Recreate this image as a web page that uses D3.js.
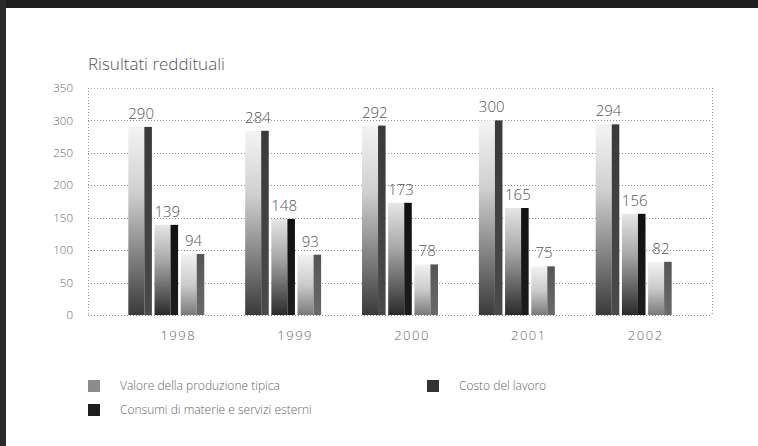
<!DOCTYPE html>
<html>
<head>
<meta charset="utf-8">
<script src="https://cdn.jsdelivr.net/npm/d3@7"></script>
<style>
  body { margin: 0; background: #fff; }
  svg { display: block; }
  text { font-family: "Open Sans", "Noto Sans", sans-serif; font-weight: 300; }
</style>
</head>
<body>
<svg id="chart" width="758" height="446"></svg>
<script>
// Data
const chartTitle = "Risultati reddituali";
const years = ["1998", "1999", "2000", "2001", "2002"];
const seriesNames = [
  "Valore della produzione tipica",
  "Consumi di materie e servizi esterni",
  "Costo del lavoro"
];
const valore  = [290, 284, 292, 300, 294];
const consumi = [139, 148, 173, 165, 156];
const costo   = [94, 93, 78, 75, 82];
const yTicks  = [0, 50, 100, 150, 200, 250, 300, 350];

const seriesValues = [valore, consumi, costo];

// Shading per series: face gradient (top -> bottom), side strip gradient, legend swatch
const faceStops = [
  [["0%", "#f4f4f4"], ["35%", "#cfcfcf"], ["100%", "#3a3a3a"]],
  [["0%", "#e6e6e6"], ["40%", "#a8a8a8"], ["100%", "#2a2a2a"]],
  [["0%", "#f2f2f2"], ["50%", "#cbcbcb"], ["100%", "#7a7a7a"]]
];
const sideStops = [
  [["0%", "#3a3a3a"], ["100%", "#4a4a4a"]],
  [["0%", "#111111"], ["100%", "#1c1c1c"]],
  [["0%", "#555555"], ["100%", "#6a6a6a"]]
];
const swatchColors = ["#8c8c8c", "#1e1e1e", "#333333"];

const svg = d3.select("#chart");
const W = 758, H = 446;
const plot = { left: 88, right: 712, top: 88, bottom: 315 };

// Frame edges
svg.append("rect").attr("x", 0).attr("y", 0).attr("width", W).attr("height", 8).attr("fill", "#1f1f1f");
svg.append("rect").attr("x", 0).attr("y", 0).attr("width", 6).attr("height", H).attr("fill", "#2a2a2a");

// Gradients
const defs = svg.append("defs");
function addGradient(id, stops) {
  const g = defs.append("linearGradient").attr("id", id)
    .attr("x1", 0).attr("y1", 0).attr("x2", 0).attr("y2", 1);
  stops.forEach(s => g.append("stop").attr("offset", s[0]).attr("stop-color", s[1]));
}
faceStops.forEach((s, i) => addGradient("face" + i, s));
sideStops.forEach((s, i) => addGradient("side" + i, s));

// Scales
const y = d3.scaleLinear().domain([0, 350]).range([plot.bottom, plot.top]);
const x = d3.scaleBand().domain(years).range([plot.left, plot.right])
  .paddingInner(0.35).paddingOuter(0.345);
const xs = d3.scaleBand().domain(d3.range(seriesNames.length))
  .range([0, x.bandwidth()]).paddingInner(0.1);

// Title
svg.append("text")
  .attr("x", 88).attr("y", 70)
  .attr("font-size", 17).attr("fill", "#555")
  .text(chartTitle);

// Dotted grid and plot border
const grid = svg.append("g").attr("stroke", "#8a8a8a").attr("stroke-width", 1)
  .attr("stroke-dasharray", "1,2").attr("fill", "none");
yTicks.forEach(t => {
  grid.append("line")
    .attr("x1", plot.left).attr("x2", plot.right)
    .attr("y1", Math.round(y(t)) + 0.5).attr("y2", Math.round(y(t)) + 0.5)
    .attr("stroke", t === 350 ? "#b0b0b0" : "#8a8a8a");
});
[plot.left, plot.right].forEach(px => {
  grid.append("line")
    .attr("x1", px + 0.5).attr("x2", px + 0.5)
    .attr("y1", plot.top).attr("y2", plot.bottom)
    .attr("stroke", "#a0a0a0");
});

// Y axis labels
const yAxis = svg.append("g")
  .attr("transform", `translate(${plot.left},0)`)
  .call(d3.axisLeft(y).tickValues(yTicks).tickSize(0).tickPadding(15));
yAxis.select(".domain").remove();
yAxis.selectAll("text")
  .attr("font-family", "'Open Sans', 'Noto Sans', sans-serif")
  .attr("font-weight", 300)
  .attr("font-size", 11.5).attr("fill", "#666");

// X axis labels
const xAxis = svg.append("g")
  .attr("transform", `translate(12,331)`)
  .call(d3.axisBottom(x).tickSize(0).tickPadding(0));
xAxis.select(".domain").remove();
xAxis.selectAll("text")
  .attr("font-family", "'Open Sans', 'Noto Sans', sans-serif")
  .attr("font-weight", 300)
  .attr("font-size", 13).attr("letter-spacing", 1.5).attr("fill", "#666");

// Bars
const sideFrac = 0.32;
const groups = svg.append("g").selectAll("g")
  .data(years).join("g")
  .attr("transform", d => `translate(${x(d)},0)`);

groups.each(function (year, yi) {
  const g = d3.select(this);
  seriesValues.forEach((vals, si) => {
    const v = vals[yi];
    const bx = xs(si), bw = xs.bandwidth();
    const top = y(v), h = y(0) - y(v);
    const sideW = bw * sideFrac;
    g.append("rect")
      .attr("x", bx).attr("y", top)
      .attr("width", bw - sideW).attr("height", h)
      .attr("fill", `url(#face${si})`);
    g.append("rect")
      .attr("x", bx + bw - sideW).attr("y", top)
      .attr("width", sideW).attr("height", h)
      .attr("fill", `url(#side${si})`);
    g.append("text")
      .attr("x", bx + bw / 2 + 1).attr("y", top - 8)
      .attr("text-anchor", "middle")
      .attr("font-size", 15).attr("fill", "#555")
      .text(v);
  });
});

// Legend (column-major: two rows per column)
const legendCols = [88, 427];
const legendRows = [386, 410];
const legend = svg.append("g");
seriesNames.forEach((name, i) => {
  const lx = legendCols[Math.floor(i / 2)];
  const ly = legendRows[i % 2];
  legend.append("rect")
    .attr("x", lx).attr("y", ly - 6)
    .attr("width", 12).attr("height", 12)
    .attr("fill", swatchColors[i]);
  legend.append("text")
    .attr("x", lx + 32).attr("y", ly + 4)
    .attr("font-size", 12).attr("fill", "#666")
    .text(name);
});
</script>
</body>
</html>
